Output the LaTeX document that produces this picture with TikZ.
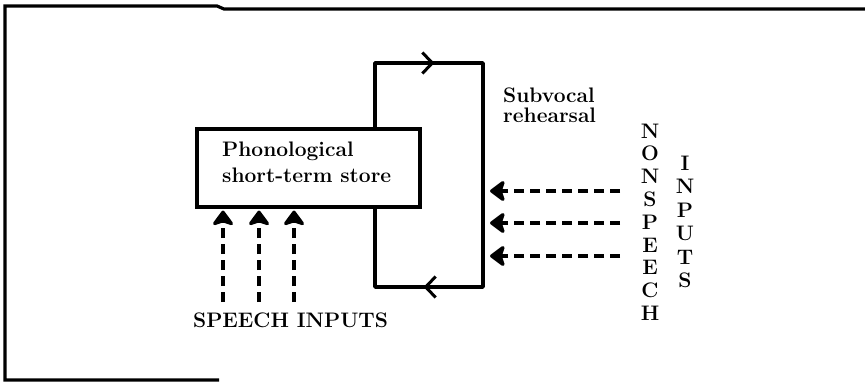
\documentclass[tikz,border=0pt]{standalone}
\usepackage{tikz}
\usetikzlibrary{arrows.meta,calc}

\tikzset{
  frameline/.style={line width=3.2pt},
  loopline/.style={line width=3.6pt},
  inarrow/.style={line width=4.4pt,dash pattern=on 10pt off 6pt,
    -{Stealth[length=17pt,width=25pt,inset=4pt,round]}},
  looptip/.style={line width=3pt,-{Straight Barb[length=10pt,width=21pt]}},
  lbl/.style={font=\fontsize{21}{20}\selectfont\bfseries,inner sep=0pt}
}

\begin{document}
\begin{tikzpicture}[x=1pt,y=-1pt]
  \useasboundingbox (0,0) rectangle (865,385);
  % scanned frame: top, left and a short piece of the bottom
  \draw[frameline] (865,9) -- (224,9) -- (217,6) -- (5,6) -- (5,380) -- (219,380);
  % rehearsal loop
  \coordinate (lt) at (375,63);
  \coordinate (rt) at (483,63);
  \coordinate (rb) at (483,287);
  \coordinate (lb) at (375,287);
  \draw[loopline,line join=round] (lt) -- (rt) -- (rb) -- (lb) -- cycle;
  \draw[looptip] (lt) -- ($(lt)!.55!(rt)$);
  \draw[looptip] (rb) -- ($(rb)!.55!(lb)$);
  % the store sits over the left side of the loop
  \node[draw,line width=3.6pt,fill=white,minimum width=223pt,minimum height=78pt,
        anchor=north west,inner sep=0pt] (store) at (195,127) {};
  \node[font=\fontsize{21}{26}\selectfont\bfseries,align=left,anchor=north west,inner sep=0pt]
    (storetext) at (222,142) {Phonological\\short-term store};
  \node[lbl,align=left,anchor=north west] (rehearsal) at (503,88) {Subvocal\\rehearsal};
  % speech inputs
  \foreach \i/\x in {1/223,2/259,3/294} {
    \coordinate (s\i) at (\x,302);
    \draw[inarrow] (s\i) -- ($(store.south -| s\i)+(0,2)$);
  }
  \node[lbl,anchor=north west] (speech) at (193,313) {SPEECH INPUTS};
  % nonspeech inputs
  \foreach \i/\y in {1/191,2/223,3/256} {
    \coordinate (n\i) at (620,\y);
    \draw[inarrow] (n\i) -- ($(n\i -| rt)+(7,0)$);
  }
  \node[lbl,font=\fontsize{21}{22.8}\selectfont\bfseries,align=center] (nonspeech) at (650,222)
    {N\\O\\N\\S\\P\\E\\E\\C\\H};
  \node[lbl,font=\fontsize{21}{23.5}\selectfont\bfseries,align=center] (inputs) at (685,222)
    {I\\N\\P\\U\\T\\S};
\end{tikzpicture}
\end{document}
